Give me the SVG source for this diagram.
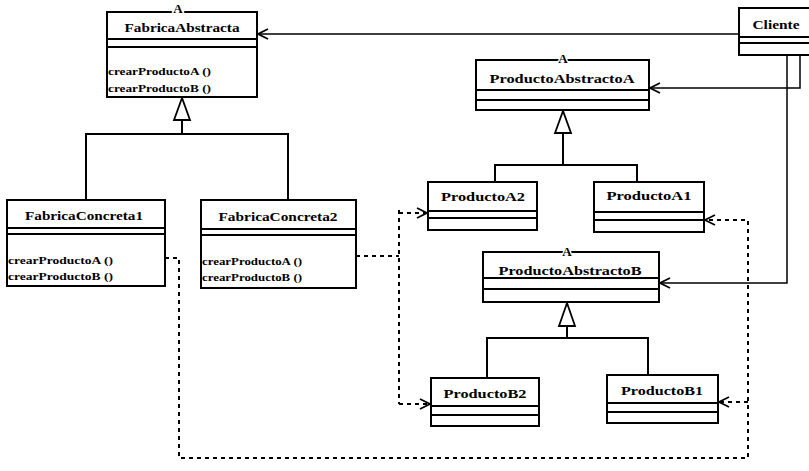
<svg xmlns="http://www.w3.org/2000/svg" width="809" height="471" viewBox="0 0 809 471">
  <defs>
    <style>
      .box { fill: #fff; stroke: #000; stroke-width: 2; }
      .sep { stroke: #000; stroke-width: 2; fill: none; }
      .name { font-family: "Liberation Serif", "Times New Roman", serif; font-size: 13px; font-weight: bold; text-anchor: middle; fill: #000; }
      .meth { font-family: "Liberation Serif", "Times New Roman", serif; font-size: 10px; font-weight: bold; fill: #000; }
      .abs { font-family: "Liberation Serif", "Times New Roman", serif; font-size: 13px; font-weight: bold; text-anchor: middle; fill: #000; stroke: #fff; stroke-width: 3; paint-order: stroke; }
      .assoc { stroke: #000; stroke-width: 1.5; fill: none; }
      .dep { stroke: #000; stroke-width: 2; fill: none; stroke-dasharray: 4 4; }
      .tri { fill: #fff; stroke: #000; stroke-width: 1.8; }
      .tree { stroke: #000; stroke-width: 2; fill: none; }
    </style>
    <marker id="open" viewBox="0 0 12 12" refX="11" refY="6" markerWidth="12" markerHeight="12" markerUnits="userSpaceOnUse" orient="auto">
      <path d="M1,1 L11,6 L1,11" fill="none" stroke="#000" stroke-width="1.8"/>
    </marker>
  </defs>

  <!-- connectors -->
  <g id="connectors">
    <!-- client associations -->
    <path class="assoc" d="M739,34 H258" marker-end="url(#open)"/>
    <path class="assoc" d="M800,55 V88 H650" marker-end="url(#open)"/>
    <path class="assoc" d="M787,55 V283 H660" marker-end="url(#open)"/>

    <!-- factory hierarchy -->
    <path class="tree" d="M182,120 V134 M86,200 V134 H288 V200"/>
    <path class="tri" d="M182,98 L174,120 H190 Z"/>

    <!-- product A hierarchy -->
    <path class="tree" d="M563,133 V165 M495,182 V165 H637 V182"/>
    <path class="tri" d="M563,111 L555,133 H571 Z"/>

    <!-- product B hierarchy -->
    <path class="tree" d="M567,326 V338 M487,378 V338 H648 V375"/>
    <path class="tri" d="M567,303 L559,326 H575 Z"/>

    <!-- creation dependencies of FabricaConcreta2 -->
    <path class="dep" d="M356,256 H399"/>
    <path class="dep" d="M399,210 V404"/>
    <path class="dep" d="M399,213 H427" marker-end="url(#open)"/>
    <path class="dep" d="M399,404 H430" marker-end="url(#open)"/>

    <!-- creation dependencies of FabricaConcreta1 -->
    <path class="dep" d="M165,258 H179 V458 H748 V220 H705" marker-end="url(#open)"/>
    <path class="dep" d="M748,402 H719" marker-end="url(#open)"/>
  </g>

  <!-- FabricaAbstracta -->
  <g id="FabricaAbstracta">
    <rect class="box" x="107" y="12" width="150" height="85"/>
    <path class="sep" d="M107,39 H257 M107,47 H257"/>
    <text class="name" x="182" y="32" textLength="115" lengthAdjust="spacingAndGlyphs">FabricaAbstracta</text>
    <text class="meth" x="108" y="75" textLength="103" lengthAdjust="spacingAndGlyphs">crearProductoA ()</text>
    <text class="meth" x="108" y="92" textLength="103" lengthAdjust="spacingAndGlyphs">crearProductoB ()</text>
    <text class="abs" x="178" y="13">A</text>
  </g>

  <!-- Cliente -->
  <g id="Cliente">
    <rect class="box" x="739" y="8" width="74" height="47"/>
    <path class="sep" d="M739,37 H809 M739,43 H809"/>
    <text class="name" x="776" y="29" textLength="47" lengthAdjust="spacingAndGlyphs">Cliente</text>
  </g>

  <!-- ProductoAbstractoA -->
  <g id="ProductoAbstractoA">
    <rect class="box" x="476" y="60" width="173" height="50"/>
    <path class="sep" d="M476,90 H649 M476,100 H649"/>
    <text class="name" x="562" y="83" textLength="145" lengthAdjust="spacingAndGlyphs">ProductoAbstractoA</text>
    <text class="abs" x="563" y="63">A</text>
  </g>

  <!-- ProductoA2 -->
  <g id="ProductoA2">
    <rect class="box" x="428" y="182" width="109" height="48"/>
    <path class="sep" d="M428,211 H537 M428,218 H537"/>
    <text class="name" x="483" y="201" textLength="84" lengthAdjust="spacingAndGlyphs">ProductoA2</text>
  </g>

  <!-- ProductoA1 -->
  <g id="ProductoA1">
    <rect class="box" x="594" y="182" width="110" height="50"/>
    <path class="sep" d="M594,212 H704 M594,220 H704"/>
    <text class="name" x="649" y="200" textLength="85" lengthAdjust="spacingAndGlyphs">ProductoA1</text>
  </g>

  <!-- ProductoAbstractoB -->
  <g id="ProductoAbstractoB">
    <rect class="box" x="483" y="252" width="176" height="50"/>
    <path class="sep" d="M483,278 H659 M483,289 H659"/>
    <text class="name" x="570" y="275" textLength="143" lengthAdjust="spacingAndGlyphs">ProductoAbstractoB</text>
    <text class="abs" x="567" y="256">A</text>
  </g>

  <!-- ProductoB2 -->
  <g id="ProductoB2">
    <rect class="box" x="431" y="378" width="108" height="48"/>
    <path class="sep" d="M431,406 H539 M431,415 H539"/>
    <text class="name" x="485" y="398" textLength="83" lengthAdjust="spacingAndGlyphs">ProductoB2</text>
  </g>

  <!-- ProductoB1 -->
  <g id="ProductoB1">
    <rect class="box" x="607" y="375" width="111" height="48"/>
    <path class="sep" d="M607,403 H718 M607,412 H718"/>
    <text class="name" x="662" y="395" textLength="82" lengthAdjust="spacingAndGlyphs">ProductoB1</text>
  </g>

  <!-- FabricaConcreta1 -->
  <g id="FabricaConcreta1">
    <rect class="box" x="7" y="200" width="158" height="86"/>
    <path class="sep" d="M7,228 H165 M7,234 H165"/>
    <text class="name" x="84" y="220" textLength="118" lengthAdjust="spacingAndGlyphs">FabricaConcreta1</text>
    <text class="meth" x="8" y="264" textLength="105" lengthAdjust="spacingAndGlyphs">crearProductoA ()</text>
    <text class="meth" x="8" y="280" textLength="105" lengthAdjust="spacingAndGlyphs">crearProductoB ()</text>
  </g>

  <!-- FabricaConcreta2 -->
  <g id="FabricaConcreta2">
    <rect class="box" x="201" y="200" width="155" height="88"/>
    <path class="sep" d="M201,229 H356 M201,235 H356"/>
    <text class="name" x="278" y="221" textLength="119" lengthAdjust="spacingAndGlyphs">FabricaConcreta2</text>
    <text class="meth" x="202" y="265" textLength="100" lengthAdjust="spacingAndGlyphs">crearProductoA ()</text>
    <text class="meth" x="202" y="281" textLength="100" lengthAdjust="spacingAndGlyphs">crearProductoB ()</text>
  </g>
</svg>
